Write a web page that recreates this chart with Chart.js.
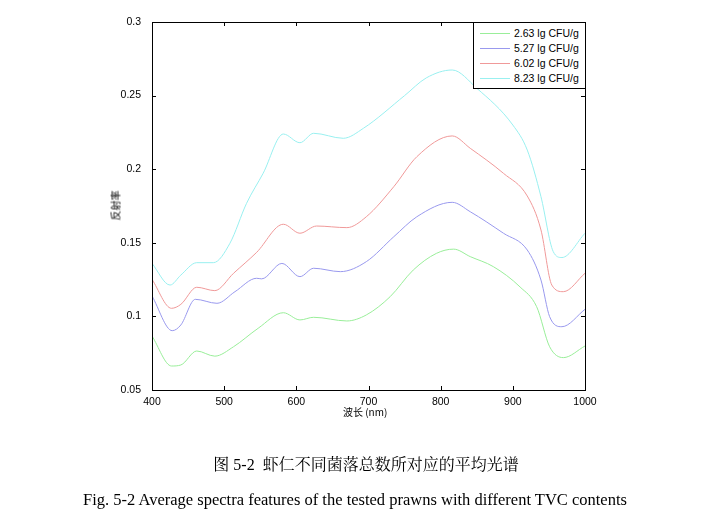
<!DOCTYPE html>
<html><head><meta charset="utf-8">
<script src="https://cdn.jsdelivr.net/npm/chart.js@4/dist/chart.umd.min.js"></script>
<style>
body{margin:0;background:#fff;width:720px;height:512px;position:relative;overflow:hidden}
#c{position:absolute;left:0;top:0}
#leg{position:absolute;left:473px;top:22px;width:113px;height:67px;border:1px solid #000;background:#fff;font:10.5px "Liberation Sans",Arial;box-sizing:border-box;padding-top:3px;white-space:nowrap}
#leg div{height:15px;line-height:15px;display:flex;align-items:center}
#leg span.l{display:inline-block;width:30px;height:1px;margin:0 4px 0 6px;flex:none}
.cap{position:absolute;left:0;width:720px;text-align:center;font-family:"Liberation Serif","Noto Serif CJK SC","Noto Sans CJK SC",serif;font-size:16px;color:#000}
.ax{position:absolute;font:10px "Noto Sans CJK SC";color:#000;white-space:nowrap}
</style></head><body>
<canvas id="c" width="720" height="512"></canvas>
<div id="leg"></div>
<div class="ax" style="left:343px;top:404px">波长 (nm)</div>
<div class="ax" style="left:100px;top:198px;transform:rotate(-90deg)">反射率</div>
<div class="cap" style="top:452px;left:6px">图 5-2&nbsp; 虾仁不同菌落总数所对应的平均光谱</div>
<div class="cap" style="top:490px;left:-5px;font-size:16.5px">Fig. 5-2 Average spectra features of the tested prawns with different TVC contents</div>
<script>
const labels=["2.63 lg CFU/g","5.27 lg CFU/g","6.02 lg CFU/g","8.23 lg CFU/g"];
const colors=["#99ee99","#9999ee","#f09999","#99f0f0"];
const wlGreen=[400,427,440,462,487,513,547,582,605,624,670,697,730,762,794,818,841,873,910,933,951,970,1000];
const vGreen=[0.0867,0.0663,0.067,0.0765,0.073,0.0794,0.0919,0.1025,0.0976,0.0994,0.0969,0.101,0.1134,0.1315,0.1428,0.1457,0.1406,0.1338,0.120,0.1066,0.0794,0.072,0.0799];
const wlBlue=[400,428,440,460,490,515,545,552,580,605,624,661,697,735,767,816,841,887,920,939,951,968,1000];
const vBlue=[0.1139,0.0903,0.0942,0.1116,0.1089,0.1168,0.1259,0.1255,0.136,0.127,0.1327,0.1304,0.1372,0.1541,0.1677,0.1775,0.1711,0.1565,0.1451,0.1247,0.0998,0.093,0.1048];
const wlRed=[400,427,440,462,487,513,545,582,605,628,670,697,735,767,816,841,887,920,939,954,970,1000];
const vRed=[0.1252,0.1055,0.1082,0.1198,0.1175,0.1293,0.1435,0.1626,0.1565,0.1614,0.1603,0.1677,0.1881,0.2085,0.2226,0.2142,0.1972,0.1818,0.1587,0.1213,0.1168,0.1293];
const wlCyan=[400,425,440,462,485,508,531,554,582,605,624,665,693,750,780,816,850,900,920,939,956,968,1000];
const vCyan=[0.136,0.1213,0.1281,0.1365,0.1365,0.1497,0.1768,0.1972,0.2239,0.218,0.2244,0.221,0.2278,0.250,0.262,0.2674,0.255,0.230,0.213,0.1813,0.144,0.140,0.1565];
const xTicks=[400,500,600,700,800,900,1000];
const yTicks=[0.05,0.1,0.15,0.2,0.25,0.3];
const pts=(w,v)=>w.map((x,i)=>({x,y:v[i]}));
const series=[pts(wlGreen,vGreen),pts(wlBlue,vBlue),pts(wlRed,vRed),pts(wlCyan,vCyan)];
document.getElementById('leg').innerHTML=labels.map((l,i)=>`<div><span class="l" style="background:${colors[i]}"></span>${l}</div>`).join('');
const font={family:"Liberation Sans",size:10.5};
const box={id:'box',afterDraw(c){const a=c.chartArea,x=c.ctx;x.save();x.strokeStyle='#000';x.lineWidth=1;x.strokeRect(Math.round(a.left)+.5,Math.round(a.top)+.5,Math.round(a.right-a.left),Math.round(a.bottom-a.top));
x.beginPath();
xTicks.forEach(t=>{const p=Math.round(c.scales.x.getPixelForValue(t))+.5;x.moveTo(p,a.bottom);x.lineTo(p,a.bottom-4);x.moveTo(p,a.top);x.lineTo(p,a.top+4);});
yTicks.forEach(t=>{const p=Math.round(c.scales.y.getPixelForValue(t))+.5;x.moveTo(a.left,p);x.lineTo(a.left+4,p);x.moveTo(a.right,p);x.lineTo(a.right-4,p);});
x.stroke();x.restore();}};
new Chart(document.getElementById('c'),{type:'line',
data:{datasets:series.map((d,i)=>({label:labels[i],data:d,borderColor:colors[i],borderWidth:1,pointRadius:0,tension:0.4,cubicInterpolationMode:'monotone',fill:false}))},
options:{responsive:false,animation:false,
layout:{padding:{left:0,top:22,right:135,bottom:92}},
plugins:{legend:{display:false},tooltip:{enabled:false}},
scales:{
x:{type:'linear',min:400,max:1000,afterBuildTicks(s){s.ticks=xTicks.map(v=>({value:v}));},
afterFit(s){s.height=30;},
grid:{display:false},border:{display:false},
ticks:{color:'#000',font,padding:-2,maxRotation:0,callback:v=>String(v)}},
y:{min:0.05,max:0.3,afterBuildTicks(s){s.ticks=yTicks.map(v=>({value:v}));},
afterFit(s){s.width=152;},
grid:{display:false},border:{display:false},
ticks:{color:'#000',font,padding:3,callback:v=>String(+v.toFixed(2))}}}},
plugins:[box]});
</script></body></html>
